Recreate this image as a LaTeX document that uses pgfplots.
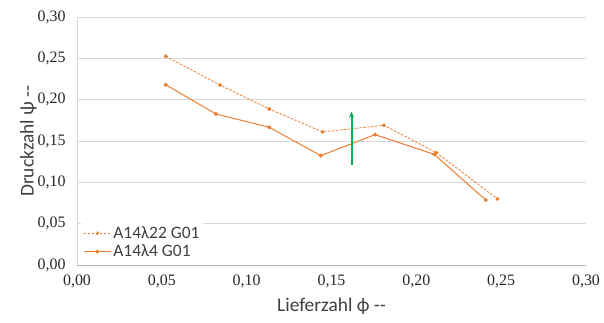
\documentclass[border=0pt]{standalone}
\usepackage{pgfplots}
\pgfplotsset{compat=1.18}
\usetikzlibrary{arrows.meta}
\usepackage{fontspec}
\setmainfont{Carlito}
\newfontfamily\tickfont{Liberation Serif}
\definecolor{xlorange}{RGB}{237,125,49}
\definecolor{xlgrid}{RGB}{217,217,217}
\definecolor{xlgreen}{RGB}{0,176,80}
\definecolor{xltext}{RGB}{64,64,64}
\begin{document}
\begin{tikzpicture}
\path[use as bounding box] (-77bp,-58bp) rectangle (527bp,265bp);
\begin{axis}[
  scale only axis, width=509bp, height=248bp,
  xmin=0, xmax=0.30, ymin=0, ymax=0.30,
  xtick={0,0.05,0.10,0.15,0.20,0.25,0.30}, ytick={0,0.05,0.10,0.15,0.20,0.25,0.30},
  xticklabel={\tickfont\fontsize{16}{16}\selectfont\pgfmathprintnumber[fixed,fixed zerofill,precision=2,use comma,assume math mode=true]{\tick}},
  yticklabel={\tickfont\fontsize{16}{16}\selectfont\pgfmathprintnumber[fixed,fixed zerofill,precision=2,use comma,assume math mode=true]{\tick}},
  tick label style={text=xltext!60!black},
  xticklabel style={yshift=-6pt},
  yticklabel style={xshift=-8pt},
  major tick length=0pt,
  axis x line*=bottom, axis y line*=left,
  x axis line style={draw=xlgrid!85!black, line width=0.9pt, -},
  y axis line style={draw=xlgrid, line width=0.9pt, -},
  ymajorgrids, grid style={draw=xlgrid, line width=0.9pt},
  xlabel={Lieferzahl ϕ -{}-}, ylabel={Druckzahl ψ -{}-},
  label style={font=\fontsize{19.5}{19.5}\selectfont, text=xltext},
  xlabel style={yshift=-4pt},
  ylabel style={yshift=-6pt},
  legend style={at={(axis cs:0.0025,0.003)}, anchor=south west, draw=none, fill=white,
    font=\fontsize{17.5}{18}\selectfont, text=xltext, row sep=1pt, inner sep=2pt},
  legend cell align=left,
  legend image code/.code={\draw[#1] (0cm,0cm) -- (0.95cm,0cm); \fill[xlorange] (0.475cm,0cm) circle (1.4pt);},
  clip=false,
]
\addplot[xlorange, line width=0.8pt, dash pattern=on 2.5pt off 1.5pt, mark=*, mark size=1.5pt, mark options={solid}]
 coordinates {(0.0523,0.2525) (0.0843,0.2177) (0.1133,0.1887) (0.1447,0.1610) (0.1809,0.1690) (0.2119,0.1359) (0.2478,0.0799)};
\addlegendentry{A14λ22 G01}
\addplot[xlorange, line width=1pt, mark=*, mark size=1.5pt]
 coordinates {(0.0523,0.2180) (0.0819,0.1827) (0.1133,0.1666) (0.1437,0.1323) (0.1757,0.1577) (0.2105,0.1339) (0.2409,0.0786)};
\addlegendentry{A14λ4 G01}
\addplot[draw=xlgreen, fill=xlgreen, solid, line width=2pt, mark=none, -{Stealth[length=6pt,width=5pt]}, forget plot]
 coordinates {(0.1618,0.121) (0.1618,0.1855)};
\end{axis}
\end{tikzpicture}
\end{document}
